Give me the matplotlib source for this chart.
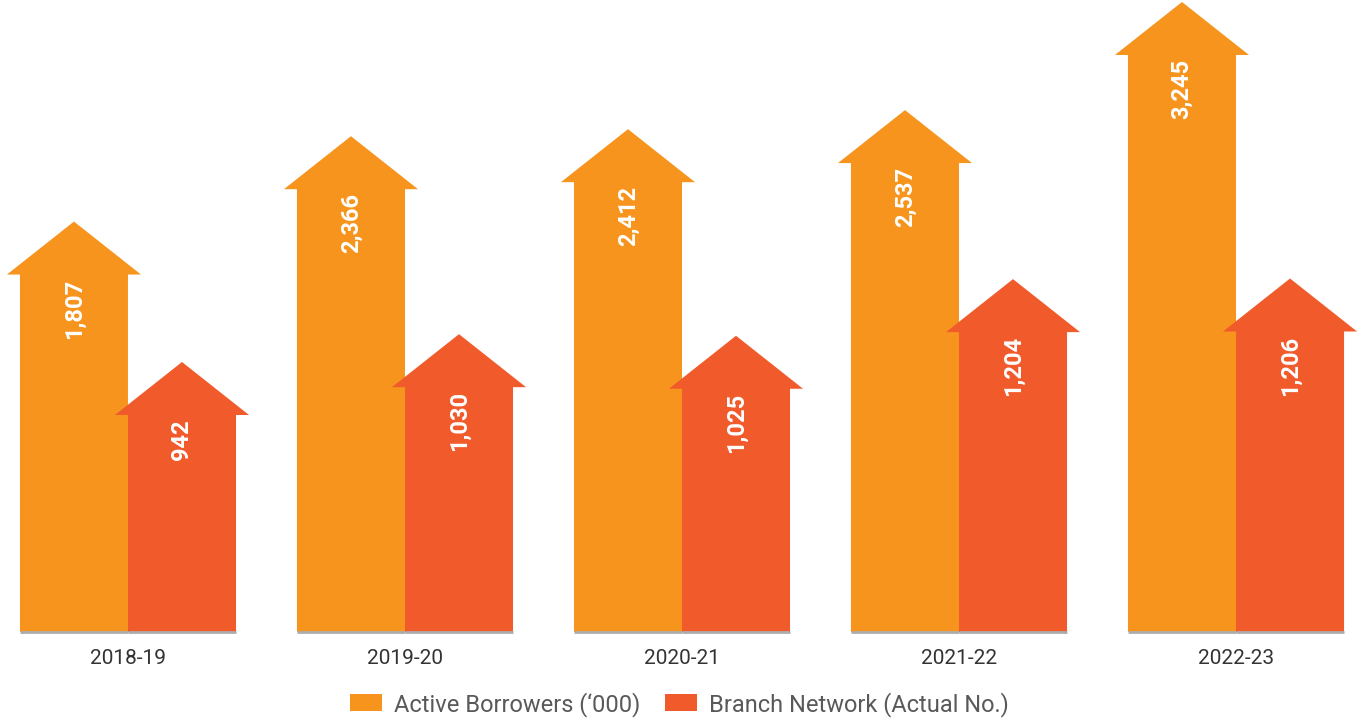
import matplotlib
matplotlib.use("Agg")
import matplotlib.pyplot as plt
from matplotlib.patches import Polygon, Patch
import numpy as np

years = ["2018-19", "2019-20", "2020-21", "2021-22", "2022-23"]
active_borrowers = [1807, 2366, 2412, 2537, 3245]
branch_network = [942, 1030, 1025, 1204, 1206]
series_names = ["Active Borrowers (\u2018000)", "Branch Network (Actual No.)"]
colors = ["#F7941E", "#F15A2B"]

plt.rcParams['font.family'] = ['Roboto', 'DejaVu Sans']

fig = plt.figure(figsize=(13.59, 7.22), dpi=100)
ax1 = fig.add_axes([0, 0.1247, 1, 0.8753])
ax2 = ax1.twinx()

x = np.arange(len(years))
ax1.set_xlim(-0.462, 4.444)
ax1.set_ylim(-881, 3258)
ax2.set_ylim(88.5, 2086.5)

bar_w = 0.39
over = 0.047
head_px = 53

def draw_arrow(ax, xl, xr, val, color):
    lo = ax.get_ylim()[0]
    disp_tip = ax.transData.transform((0, val))
    base = ax.transData.inverted().transform((0, disp_tip[1] - head_px))[1]
    pts = [(xl, lo), (xr, lo), (xr, base), (xr + over, base),
           ((xl + xr) / 2, val), (xl - over, base), (xl, base)]
    ax.add_patch(Polygon(pts, closed=True, facecolor=color, edgecolor='none', clip_on=False))
    ax.plot([xl, xr], [lo, lo], color="#ADADAD", lw=2, solid_capstyle='butt', clip_on=False, zorder=3)
    ax.annotate(f"{val:,}", xy=((xl + xr) / 2, val), xytext=(0, -head_px - 4),
                textcoords='offset pixels', rotation=90, ha='center', va='top',
                color='white', fontsize=17, fontweight='bold', annotation_clip=False)

for i in range(len(years)):
    draw_arrow(ax1, x[i] - bar_w, x[i], active_borrowers[i], colors[0])
    draw_arrow(ax2, x[i], x[i] + bar_w, branch_network[i], colors[1])

for ax in (ax1, ax2):
    for s in ax.spines.values():
        s.set_visible(False)
    ax.set_yticks([])
ax1.set_xticks(x)
ax1.set_xticklabels(years, fontsize=15, color="#333333")
ax1.tick_params(axis='x', length=0, pad=12)

handles = [Patch(facecolor=c, edgecolor='none') for c in colors]
fig.legend(handles, series_names, loc='lower center', bbox_to_anchor=(0.5, -0.022), ncol=2,
           frameon=False, fontsize=17, labelcolor="#595959", handlelength=1.36, handleheight=0.72,
           handletextpad=0.5, columnspacing=1.06)

fig.savefig("out.png", dpi=100)
